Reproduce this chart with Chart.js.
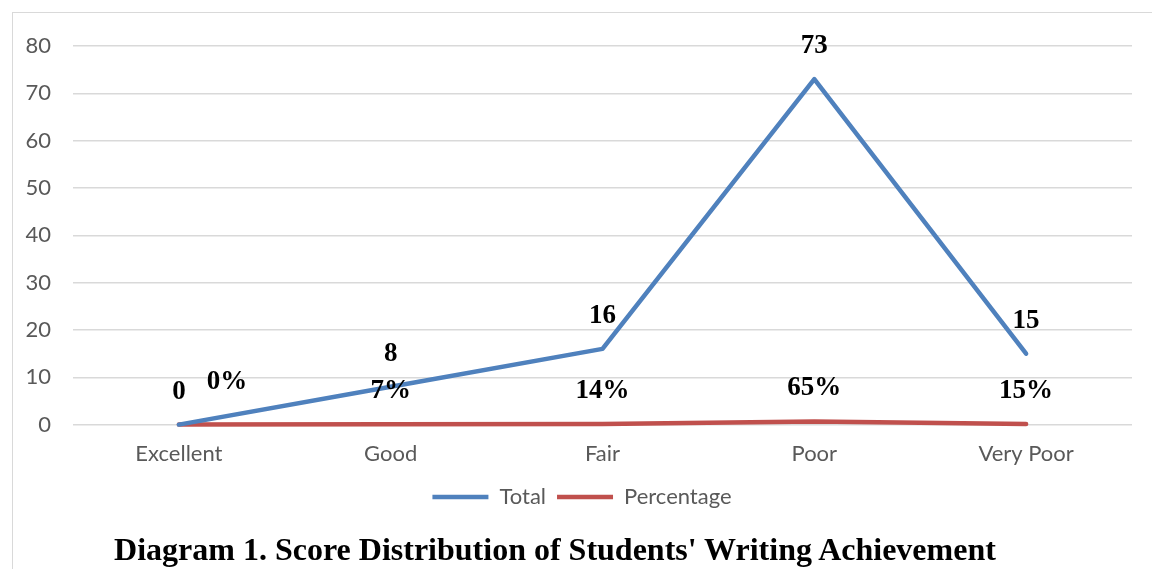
<!DOCTYPE html>
<html lang="en">
<head>
    <meta charset="UTF-8">
    <title>Score Distribution</title>
    <script src="https://cdn.jsdelivr.net/npm/chart.js"></script>
    <style>
        body { margin: 0; background: #fff; }
        #frame {
            position: absolute; left: 12px; top: 12px; width: 1160px; height: 580px;
            border: 1px solid #d9d9d9; box-sizing: border-box;
        }
        #wrap { position: absolute; left: 0; top: 0; width: 1152px; height: 569px; }
        #caption {
            position: absolute; left: 0; width: 1110px; top: 531px; text-align: center;
            font: bold 32px "Liberation Serif", "Times New Roman", serif; color: #000;
            line-height: 36px;
        }
    </style>
</head>
<body>
    <div id="frame"></div>
    <div id="wrap"><canvas id="lineChart"></canvas></div>
    <div id="caption">Diagram 1. Score Distribution of Students' Writing Achievement</div>

    <script>
        const categories = ['Excellent', 'Good', 'Fair', 'Poor', 'Very Poor'];
        const totalValues = [0, 8, 16, 73, 15];
        const percentageValues = [0, 0.07, 0.14, 0.65, 0.15];
        const yTicks = [0, 10, 20, 30, 40, 50, 60, 70, 80];

        // value labels above the points
        const valueLabels = {
            id: 'valueLabels',
            afterLayout(chart) {
                // legend sits a little right of the page centre in the original
                chart.legend.left += 16;
                chart.legend.right += 16;
            },
            afterDatasetsDraw(chart) {
                const ctx = chart.ctx;
                ctx.save();
                ctx.font = 'bold 27px "Liberation Serif", serif';
                ctx.fillStyle = '#000';
                ctx.textAlign = 'center';
                ctx.textBaseline = 'middle';
                chart.data.datasets.forEach((ds, di) => {
                    chart.getDatasetMeta(di).data.forEach((pt, i) => {
                        let text = di === 0 ? String(ds.data[i]) : Math.round(ds.data[i] * 100) + '%';
                        let dx = (di === 1 && i === 0) ? 48 : 0; // keep "0%" clear of "0"
                        let dy = (di === 1 && i === 0) ? -43 : -33;
                        ctx.fillText(text, pt.x + dx, pt.y + dy);
                    });
                });
                ctx.restore();
            }
        };

        const ctx = document.getElementById('lineChart').getContext('2d');
        new Chart(ctx, {
            type: 'line',
            data: {
                labels: categories,
                datasets: [{
                    label: 'Total',
                    data: totalValues,
                    borderColor: '#4f81bd',
                    backgroundColor: '#4f81bd',
                    borderWidth: 4.5,
                    borderCapStyle: 'round',
                    borderJoinStyle: 'round',
                    pointRadius: 0,
                    clip: 8,
                    fill: false
                },
                {
                    label: 'Percentage',
                    data: percentageValues,
                    borderColor: '#c0504d',
                    backgroundColor: '#c0504d',
                    borderWidth: 4.5,
                    borderCapStyle: 'round',
                    borderJoinStyle: 'round',
                    pointRadius: 0,
                    clip: 8,
                    fill: false
                }]
            },
            options: {
                responsive: true,
                maintainAspectRatio: false,
                animation: false,
                layout: { padding: { top: 46, right: 20, bottom: 51, left: 0 } },
                scales: {
                    x: {
                        offset: true,
                        grid: { display: false },
                        border: { display: false },
                        ticks: { color: '#595959', font: { family: 'Lato', size: 22 }, padding: 8 }
                    },
                    y: {
                        min: 0,
                        max: 80,
                        afterBuildTicks: axis => { axis.ticks = yTicks.map(v => ({ value: v })); },
                        afterFit: axis => { axis.width = 73; },
                        grid: { color: '#d9d9d9', lineWidth: 1.5, drawTicks: false },
                        border: { display: false },
                        ticks: { color: '#595959', font: { family: 'Lato', size: 22 }, padding: 22 }
                    }
                },
                plugins: {
                    legend: {
                        position: 'bottom',
                        labels: {
                            usePointStyle: true,
                            pointStyle: 'line',
                            pointStyleWidth: 56,
                            color: '#595959',
                            font: { family: 'Lato', size: 22 },
                            padding: 11
                        }
                    },
                    tooltip: { enabled: false }
                }
            },
            plugins: [valueLabels]
        });
    </script>
</body>
</html>
